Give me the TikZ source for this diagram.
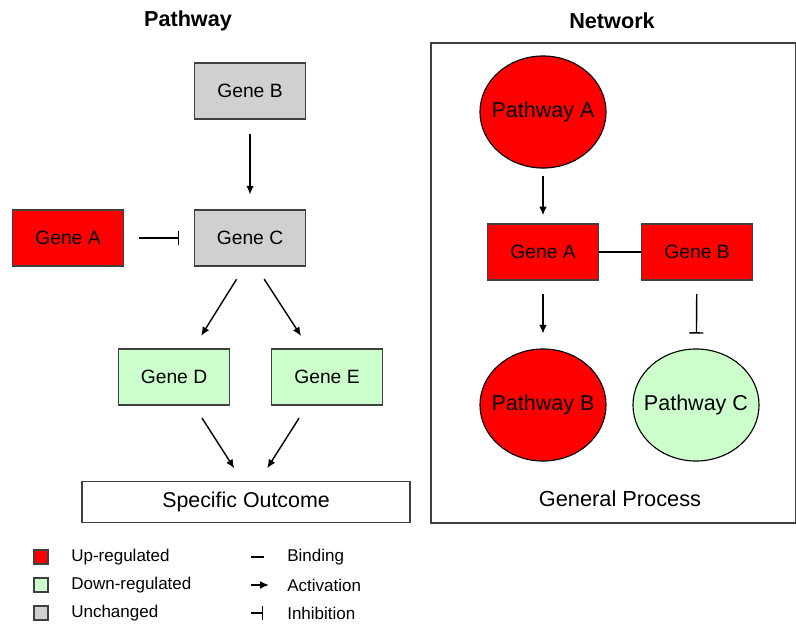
\documentclass[tikz,border=0pt]{standalone}
\usepackage{fontspec}
\setmainfont{Liberation Sans}
\usetikzlibrary{arrows.meta,shapes.geometric}
\definecolor{upred}{RGB}{255,0,0}
\definecolor{downgreen}{RGB}{204,255,204}
\definecolor{samegray}{RGB}{208,208,208}
\definecolor{edgegray}{RGB}{64,64,64}

\begin{document}
\begin{tikzpicture}[x=0.025cm,y=-0.025cm,
  gene/.style={draw=edgegray,line width=0.9pt,minimum width=2.78cm,minimum height=1.4cm,
    font=\fontsize{13.7}{16}\selectfont},
  pway/.style={ellipse,draw=black,line width=0.8pt,minimum width=3.15cm,minimum height=2.8cm,
    inner xsep=-0.2cm,inner ysep=0pt,font=\fontsize{15.3}{18}\selectfont},
  key/.style={draw=edgegray,line width=0.9pt,minimum size=0.35cm,inner sep=0pt},
  keytext/.style={anchor=west,inner sep=0pt,font=\fontsize{12.1}{14}\selectfont},
  title/.style={font=\bfseries\fontsize{15.4}{18}\selectfont},
  act/.style={line width=1pt,-{Latex[length=2.2mm,width=1.9mm]},shorten <=0.37cm,shorten >=0.37cm},
  inh/.style={line width=1pt,-{Bar[width=3.5mm,line width=1pt]},shorten <=0.37cm,shorten >=0.37cm},
  bind/.style={line width=1pt}]
\useasboundingbox (0,0) rectangle (796,627);

\node[title] (tPath) at (188,21) {Pathway};
\node[title] (tNet) at (612,21) {Network};

\node[gene,fill=samegray] (gB) at (250,91) {Gene B};
\node[gene,fill=samegray] (gC) at (250,238) {Gene C};
\node[gene,fill=upred] (gA) at (68,238) {Gene A};
\node[gene,fill=downgreen] (gD) at (174,377) {Gene D};
\node[gene,fill=downgreen] (gE) at (327,377) {Gene E};
\node[draw=edgegray,line width=0.9pt,minimum width=8.2cm,minimum height=1.03cm,
  font=\fontsize{15.2}{18}\selectfont] (out) at (246,502) {Specific Outcome};

\draw[act] (gB) -- (gC);
\draw[inh] (gA) -- (gC);
\draw[act] (gC.-101) -- (gD.56);
\draw[act] (gC.-78) -- (gE.122);
\draw[act] (gD.-55) -- (out.100);
\draw[act] (gE.-125) -- (out.58);

\draw[draw=edgegray,line width=1pt] (431,43) rectangle (796,523);
\node[pway,fill=upred] (pA) at (543,112) {Pathway A};
\node[gene,fill=upred] (nA) at (543,252) {Gene A};
\node[gene,fill=upred] (nB) at (697,252) {Gene B};
\node[pway,fill=upred] (pB) at (543,405) {Pathway B};
\node[pway,fill=downgreen] (pC) at (696,405) {Pathway C};
\node[font=\fontsize{15.5}{18}\selectfont] (gen) at (620,499) {General Process};

\draw[act,shorten <=0.18cm,shorten >=0.2cm] (pA) -- (nA);
\draw[bind] (nA) -- (nB);
\draw[act,shorten <=0.33cm] (nA) -- (pB);
\draw[inh,shorten <=0.33cm] (nB) -- (pC);

\node[key,fill=upred] (kUp) at (41,557) {};
\node[key,fill=downgreen] (kDown) at (41,585) {};
\node[key,fill=samegray] (kSame) at (41,613) {};
\node[keytext] (tUp) at (71,557) {Up-regulated};
\node[keytext] (tDown) at (71,585) {Down-regulated};
\node[keytext] (tSame) at (71,613) {Unchanged};

\coordinate (b0) at (251,557);
\coordinate (b1) at (264,557);
\coordinate (a0) at (251,585);
\coordinate (a1) at (269,585);
\coordinate (i0) at (251,613);
\coordinate (i1) at (263,613);
\draw[bind] (b0) -- (b1);
\draw[line width=1pt,-{Latex[length=2.2mm,width=1.9mm]}] (a0) -- (a1);
\draw[line width=1pt,-{Bar[width=3.3mm,line width=1pt]}] (i0) -- (i1);
\node[keytext] (tBind) at (287,557) {Binding};
\node[keytext] (tAct) at (287,585) {Activation};
\node[keytext] (tInh) at (287,613) {Inhibition};
\end{tikzpicture}
\end{document}
